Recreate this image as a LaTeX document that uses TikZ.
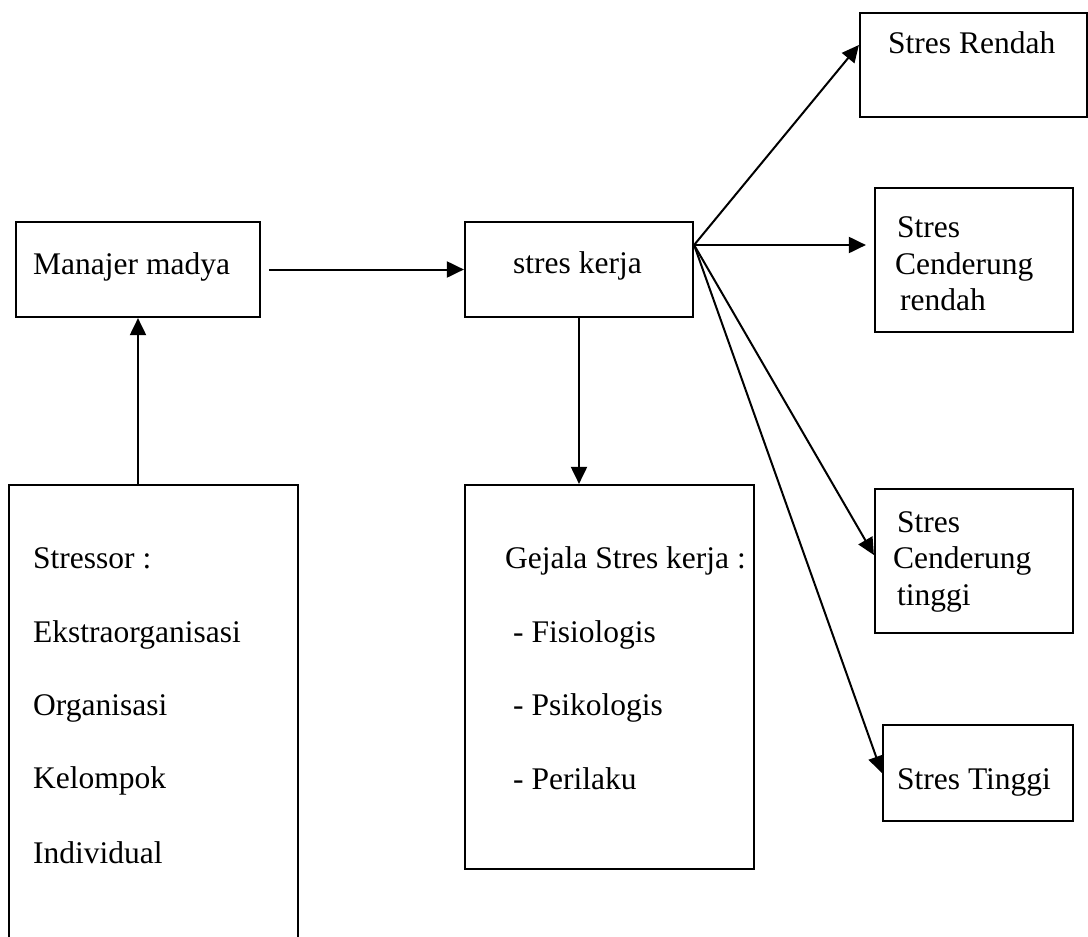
\documentclass[tikz,border=0pt]{standalone}
\usepackage{fontspec}
\setmainfont{Liberation Serif}
\usetikzlibrary{arrows.meta}
\begin{document}
\begin{tikzpicture}[x=1pt,y=-1pt,
  box/.style={draw=black,line width=2.2pt,rectangle,inner sep=0pt},
  txt/.style={anchor=base west,inner sep=0pt,font=\fontsize{31.5}{38}\selectfont},
  conn/.style={line width=2pt,-{Triangle[length=17pt,width=16pt]}}]
\useasboundingbox (0,0) rectangle (1088,937);
\clip (0,0) rectangle (1088,937);
\fill[white] (0,0) rectangle (1088,937);
% boxes
\node[box,minimum width=244pt,minimum height=95pt] (mm) at (138,269.5) {};
\node[box,minimum width=228pt,minimum height=95pt] (sk) at (579,269.5) {};
\node[box,minimum width=227pt,minimum height=104pt] (sr) at (973.5,65) {};
\node[box,minimum width=198pt,minimum height=144pt] (cr) at (974,260) {};
\node[box,minimum width=198pt,minimum height=144pt] (ct) at (974,561) {};
\node[box,minimum width=190pt,minimum height=96pt] (tg) at (978,773) {};
\node[box,minimum width=289pt,minimum height=475pt] (st) at (153.5,722.5) {};
\node[box,minimum width=289pt,minimum height=384pt] (gj) at (609.5,677) {};
% texts
\node[txt] (t1) at (33,274) {Manajer madya};
\node[txt] (t2) at (513,273) {stres kerja};
\node[txt] (t3) at (888,53) {Stres Rendah};
\node[txt] (t4) at (897,237) {Stres};
\node[txt] (t5) at (895,274) {Cenderung};
\node[txt] (t6) at (900,310) {rendah};
\node[txt] (t7) at (897,532) {Stres};
\node[txt] (t8) at (893,568) {Cenderung};
\node[txt] (t9) at (897,605) {tinggi};
\node[txt] (t10) at (897,789) {Stres Tinggi};
\node[txt] (s1) at (33,568) {Stressor :};
\node[txt] (s2) at (33,642) {Ekstraorganisasi};
\node[txt] (s3) at (33,715) {Organisasi};
\node[txt] (s4) at (33,788) {Kelompok};
\node[txt] (s5) at (33,863) {Individual};
\node[txt] (g1) at (505,568) {Gejala Stres kerja :};
\node[txt] (g2) at (513,642) {- Fisiologis};
\node[txt] (g3) at (513,715) {- Psikologis};
\node[txt] (g4) at (513,789) {- Perilaku};
% connectors
\draw[conn] ([xshift=8pt]mm.east) -- (sk.west);
\draw[conn] (mm.south |- st.north) -- (mm.south);
\draw[conn] (sk.south) -- (sk.south |- gj.north);
\coordinate (src) at ([yshift=24.5pt]sk.east);
\draw[conn] (src) -- ([yshift=20pt]sr.west);
\draw[conn] (src) -- ([xshift=-8pt]src -| cr.west);
\draw[conn] (src) -- ([yshift=6pt]ct.west);
\draw[conn] (src) -- (tg.west);
\end{tikzpicture}
\end{document}
